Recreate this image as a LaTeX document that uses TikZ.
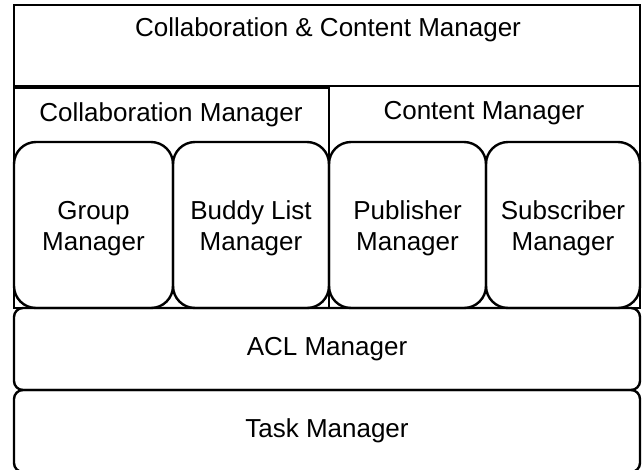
\documentclass[tikz,border=0pt]{standalone}
\usepackage{fontspec}
\setmainfont{Liberation Sans}
\usetikzlibrary{positioning}
\newcommand{\mgrstrut}{\rule{0pt}{25pt}}
\begin{document}
\begin{tikzpicture}[x=1pt, y=-1pt, line width=2.4pt,
  font=\fontsize{26}{30}\selectfont,
  frame/.style = {draw, rectangle, outer sep=0pt, inner sep=0pt, anchor=north west},
  mgr/.style = {draw, rounded corners=22pt, align=center, outer sep=0pt, inner sep=0pt,
    font=\fontsize{26}{31}\selectfont, minimum height=166pt, anchor=north west},
  band/.style = {draw, rounded corners=9pt, outer sep=0pt, inner sep=0pt,
    minimum width=626pt, minimum height=82pt, anchor=north west},
  lbl/.style = {inner sep=0pt}]
\useasboundingbox (0,0) rectangle (642,469);
\clip (0,0) rectangle (642,469);
% outer frames
\node[frame, minimum width=626pt, minimum height=81pt] (top) at (14,5) {};
\node[frame, minimum width=315pt, minimum height=220pt] (collab) at (14,88) {};
\node[frame, minimum width=311pt, minimum height=222pt] (content) at (329,86) {};
\node[lbl] (toplbl) at (328,30) {Collaboration \& Content Manager};
\node[lbl] (collablbl) at (171,115) {Collaboration Manager};
\node[lbl] (contentlbl) at (484,113) {Content Manager};
% managers
\node[mgr, minimum width=159pt] (group) at (14,142) {\mgrstrut Group\\Manager};
\node[mgr, minimum width=156pt] (buddy) [right=0pt of group.north east, anchor=north west] {\mgrstrut Buddy List\\Manager};
\node[mgr, minimum width=157pt] (pub) [right=0pt of buddy.north east, anchor=north west] {\mgrstrut Publisher\\Manager};
\node[mgr, minimum width=154pt] (sub) [right=0pt of pub.north east, anchor=north west] {\mgrstrut Subscriber\\Manager};
% layers
\node[band] (acl) at (14,308) {ACL Manager};
\node[band] (task) [below=0pt of acl.south west, anchor=north west] {Task Manager};
\end{tikzpicture}
\end{document}
